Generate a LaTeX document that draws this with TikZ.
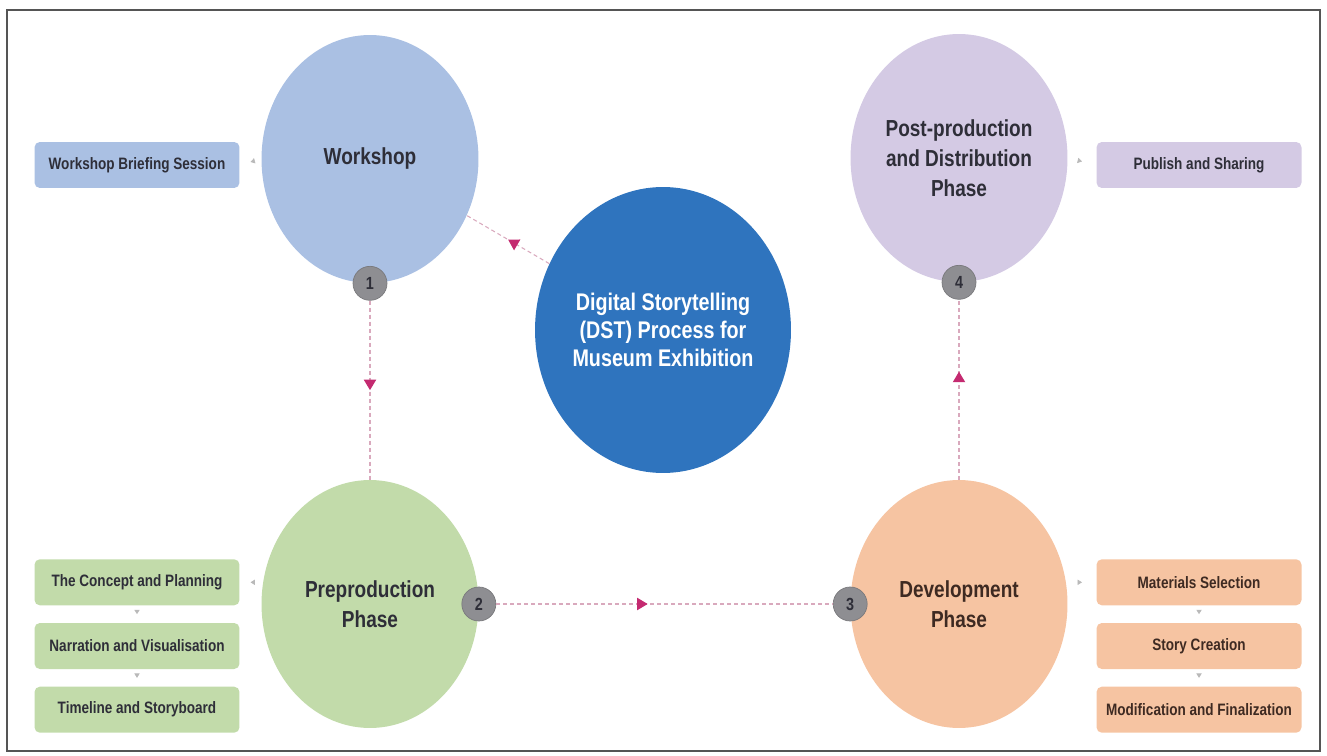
\documentclass[tikz,border=0pt]{standalone}
\usepackage{fontspec}
\setmainfont{Liberation Sans}[FakeStretch=0.82]
\usetikzlibrary{arrows.meta,positioning,shapes.geometric,decorations.markings}

\definecolor{wsblue}{HTML}{AAC0E3}
\definecolor{prepgreen}{HTML}{C2DBAA}
\definecolor{devpeach}{HTML}{F6C4A2}
\definecolor{postlilac}{HTML}{D4CAE4}
\definecolor{dstblue}{HTML}{2F74BE}
\definecolor{badgegray}{HTML}{8E8E92}
\definecolor{txtgray}{HTML}{2E2E38}
\definecolor{txtbrown}{HTML}{3E2A22}
\definecolor{flowline}{HTML}{D9A9BD}
\definecolor{flowtip}{HTML}{C42A70}
\definecolor{framegray}{HTML}{555555}

\begin{document}
\begin{tikzpicture}[x=0.02cm, y=-0.02cm, node distance=0.34cm, text=txtgray,
    phase/.style={ellipse, fill=#1, minimum width=4.34cm, minimum height=4.96cm, inner sep=0pt, align=center, font=\bfseries\fontsize{13.2}{17}\selectfont},
    badge/.style={circle, fill=badgegray, draw=badgegray!85!black, minimum size=0.68cm, inner sep=0pt, font=\bfseries\fontsize{10}{12}\selectfont},
    taskbox/.style={rounded corners=3pt, fill=#1, minimum width=4.1cm, minimum height=0.92cm, inner sep=0pt, font=\bfseries\fontsize{9.4}{11}\selectfont},
    flow/.style={draw=flowline, line width=0.6pt, dash pattern=on 0.08cm off 0.06cm, postaction={decorate}, decoration={markings, mark=at position #1 with {\arrow{Triangle[width=7pt,length=6pt,color=flowtip]}}}},
    flow/.default=0.5,
    linkto/.style={draw=none, postaction={decorate}, decoration={markings, mark=at position 0.5 with {\arrow{Triangle[width=3pt,length=2.5pt,color=gray!55]}}}}]
    \useasboundingbox (0,0) rectangle (1327,756);
    \draw[framegray, line width=0.6pt] (7,10) rectangle (1320,751);

    % phases
    \node[phase=wsblue]     (ws)   at (370,159) {Workshop};
    \node[phase=prepgreen]  (pre)  at (370,604) {Preproduction\\Phase};
    \node[phase=devpeach, text=txtbrown] (dev) at (959,604) {Development\\Phase};
    \node[phase=postlilac]  (post) at (959,158) {Post-production\\and Distribution\\Phase};
    \node[ellipse, fill=dstblue, minimum width=5.12cm, minimum height=5.72cm, inner sep=0pt, align=center, text=white,
          font=\bfseries\fontsize{13.7}{16}\selectfont] (dst) at (663,330) {Digital Storytelling\\(DST) Process for\\Museum Exhibition};

    % numbers
    \node[badge] (b1) at (ws.south)  {1};
    \node[badge] (b2) at (pre.east)  {2};
    \node[badge] (b3) at (dev.west)  {3};
    \node[badge] (b4) at (post.south) {4};

    % tasks
    \node[taskbox=wsblue]    (brief)   at (137,165)  {Workshop Briefing Session};
    \node[taskbox=postlilac] (publish) at (1199,165) {Publish and Sharing};
    \node[taskbox=prepgreen] (narr)    at (137,646)  {Narration and Visualisation};
    \node[taskbox=prepgreen] (concept) [above=of narr] {The Concept and Planning};
    \node[taskbox=prepgreen] (story)   [below=of narr] {Timeline and Storyboard};
    \node[taskbox=devpeach, text=txtbrown] (create) at (1199,646) {Story Creation};
    \node[taskbox=devpeach, text=txtbrown] (select) [above=of create] {Materials Selection};
    \node[taskbox=devpeach, text=txtbrown] (final)  [below=of create] {Modification and Finalization};

    \path (dst)  edge [flow]       (ws)
          (b1)   edge [flow]       (pre)
          (b2)   edge [flow=0.45]  (b3)
          (dev)  edge [flow=0.6]   (b4);

    \path[linkto] (ws.west) -- (brief.east);
    \path[linkto] (post.east) -- (publish.west);
    \path[linkto] (pre.west |- concept) -- (concept.east);
    \path[linkto] (dev.east |- select) -- (select.west);
    \path[linkto] (concept) -- (narr);
    \path[linkto] (narr) -- (story);
    \path[linkto] (select) -- (create);
    \path[linkto] (create) -- (final);
\end{tikzpicture}
\end{document}
